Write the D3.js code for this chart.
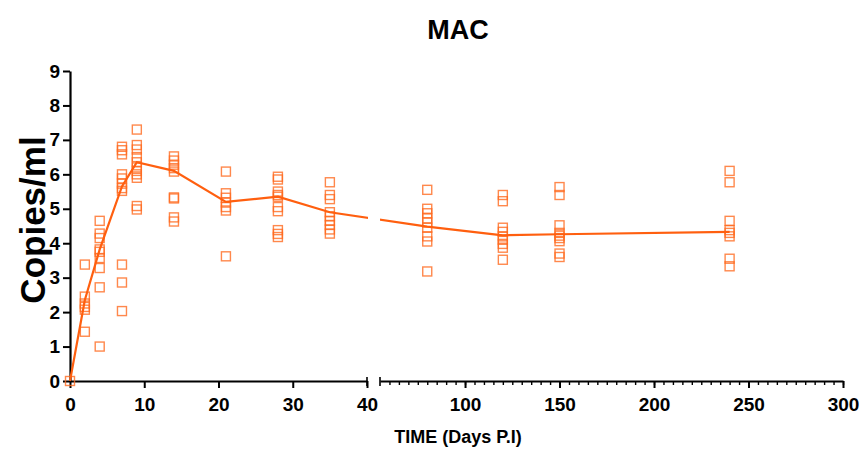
<!DOCTYPE html>
<html>
<head>
<meta charset="utf-8">
<script src="https://cdn.jsdelivr.net/npm/d3@7"></script>
<style>
  body { margin: 0; background: #fff; }
  text { font-family: "Liberation Sans", Arial, sans-serif; font-weight: bold; }
</style>
</head>
<body>
<svg id="chart" width="865" height="455"></svg>
<script>
// days post infection
var days = [0, 2, 4, 7, 9, 14, 21, 28, 35, 80, 120, 150, 240];

// individual readings, one array per day
var readings = [
  [0],
  [3.38, 2.45, 2.25, 2.15, 2.07, 1.43],
  [4.65, 4.28, 4.15, 3.82, 3.75, 3.57, 3.28, 2.72, 1.0],
  [6.8, 6.7, 6.58, 6.0, 5.88, 5.73, 5.6, 5.52, 3.38, 2.86, 2.03],
  [7.3, 6.85, 6.72, 6.5, 6.35, 6.2, 6.1, 6.0, 5.9, 5.08, 4.98],
  [6.52, 6.4, 6.28, 6.18, 6.08, 5.33, 5.3, 4.75, 4.63],
  [6.08, 5.45, 5.32, 5.18, 5.05, 4.95, 3.62],
  [5.93, 5.85, 5.5, 5.4, 5.35, 5.05, 4.93, 4.38, 4.27, 4.18],
  [5.77, 5.4, 5.28, 4.9, 4.78, 4.65, 4.53, 4.4, 4.28],
  [5.55, 5.0, 4.87, 4.72, 4.6, 4.45, 4.2, 4.05, 3.18],
  [5.4, 5.22, 4.45, 4.33, 4.2, 4.1, 3.98, 3.87, 3.52],
  [5.63, 5.4, 4.52, 4.3, 4.22, 4.15, 4.06, 3.7, 3.6],
  [6.1, 5.77, 4.65, 4.38, 4.3, 4.2, 3.55, 3.33]
];

// line through the group centres
var centre = [0, 2.35, 3.82, 5.65, 6.35, 6.1, 5.2, 5.35, 4.9, 4.48, 4.23, 4.26, 4.33];

var leftTicks = [0, 10, 20, 30, 40];
var rightTicks = [100, 150, 200, 250, 300];
var yTicks = [0, 1, 2, 3, 4, 5, 6, 7, 8, 9];

var svg = d3.select("#chart");

var plotTop = 71, plotBottom = 381;

// broken x axis: two linear pieces
var xl = d3.scaleLinear().domain([0, 40]).range([70, 367]);
var xr = d3.scaleLinear().domain([55, 300]).range([380, 843]);
function x(d) { return d <= 40 ? xl(d) : xr(d); }

var y = d3.scaleLinear().domain([0, 9]).range([plotBottom, plotTop]);

var orange = "#ff6a1f";

// y axis
svg.append("g")
    .attr("transform", "translate(70,0)")
    .call(d3.axisLeft(y).tickValues(yTicks).tickSize(7).tickSizeOuter(0).tickPadding(3))
    .call(function(g) {
      g.select(".domain").attr("stroke-width", 2.2);
      g.selectAll(".tick line").attr("stroke-width", 2);
      g.selectAll(".tick text").attr("font-size", 19).attr("fill", "#000");
    });

// x axis left piece
svg.append("g")
    .attr("transform", "translate(0," + plotBottom + ")")
    .call(d3.axisBottom(xl).tickValues(leftTicks).tickSize(7).tickSizeOuter(0).tickPadding(10))
    .call(function(g) {
      g.select(".domain").attr("stroke-width", 2.2);
      g.selectAll(".tick line").attr("stroke-width", 2);
      g.selectAll(".tick text").attr("font-size", 19).attr("fill", "#000");
    });

// x axis right piece, minor ticks every 5 days
svg.append("g")
    .attr("transform", "translate(0," + plotBottom + ")")
    .call(d3.axisBottom(xr).tickValues(d3.range(60, 301, 5)).tickSize(4).tickSizeOuter(0).tickFormat(""))
    .call(function(g) {
      g.select(".domain").attr("stroke-width", 2.2);
      g.selectAll(".tick line").attr("stroke-width", 1.4);
    });

svg.append("g")
    .attr("transform", "translate(0," + plotBottom + ")")
    .call(d3.axisBottom(xr).tickValues(rightTicks).tickSize(7).tickSizeOuter(0).tickPadding(10))
    .call(function(g) {
      g.select(".domain").remove();
      g.selectAll(".tick line").attr("stroke-width", 2);
      g.selectAll(".tick text").attr("font-size", 19).attr("fill", "#000");
    });

// end caps either side of the break
svg.selectAll(".cap")
    .data([xl(40), xr(55)])
    .enter().append("line")
      .attr("class", "cap")
      .attr("x1", function(d) { return d; })
      .attr("x2", function(d) { return d; })
      .attr("y1", plotBottom - 4)
      .attr("y2", plotBottom + 5)
      .attr("stroke", "#000")
      .attr("stroke-width", 1.6);

// points
var pts = [];
days.forEach(function(d, i) {
  readings[i].forEach(function(v) { pts.push([d, v]); });
});

svg.append("g").selectAll("rect")
    .data(pts)
    .enter().append("rect")
      .attr("x", function(d) { return x(d[0]) - 4.5; })
      .attr("y", function(d) { return y(d[1]) - 4.5; })
      .attr("width", 9)
      .attr("height", 9)
      .attr("fill", "none")
      .attr("stroke", orange)
      .attr("stroke-opacity", 0.8)
      .attr("stroke-width", 1.4);

// line, hidden across the break
var clip = svg.append("clipPath").attr("id", "gap");
clip.append("rect").attr("x", 0).attr("y", 0).attr("width", xl(40) + 1).attr("height", 455);
clip.append("rect").attr("x", xr(55)).attr("y", 0).attr("width", 865).attr("height", 455);

var line = d3.line()
    .x(function(d, i) { return x(days[i]); })
    .y(function(d) { return y(d); });

svg.append("path")
    .datum(centre)
    .attr("clip-path", "url(#gap)")
    .attr("d", line)
    .attr("fill", "none")
    .attr("stroke", "#ff5f0f")
    .attr("stroke-width", 2.2);

// titles
svg.append("text")
    .attr("x", 458)
    .attr("y", 39)
    .attr("text-anchor", "middle")
    .attr("font-size", 27)
    .text("MAC");

svg.append("text")
    .attr("x", 458)
    .attr("y", 443)
    .attr("text-anchor", "middle")
    .attr("font-size", 18)
    .text("TIME (Days P.I)");

svg.append("text")
    .attr("transform", "translate(45,220) rotate(-90)")
    .attr("text-anchor", "middle")
    .attr("font-size", 35)
    .text("Copies/ml");
</script>
</body>
</html>
